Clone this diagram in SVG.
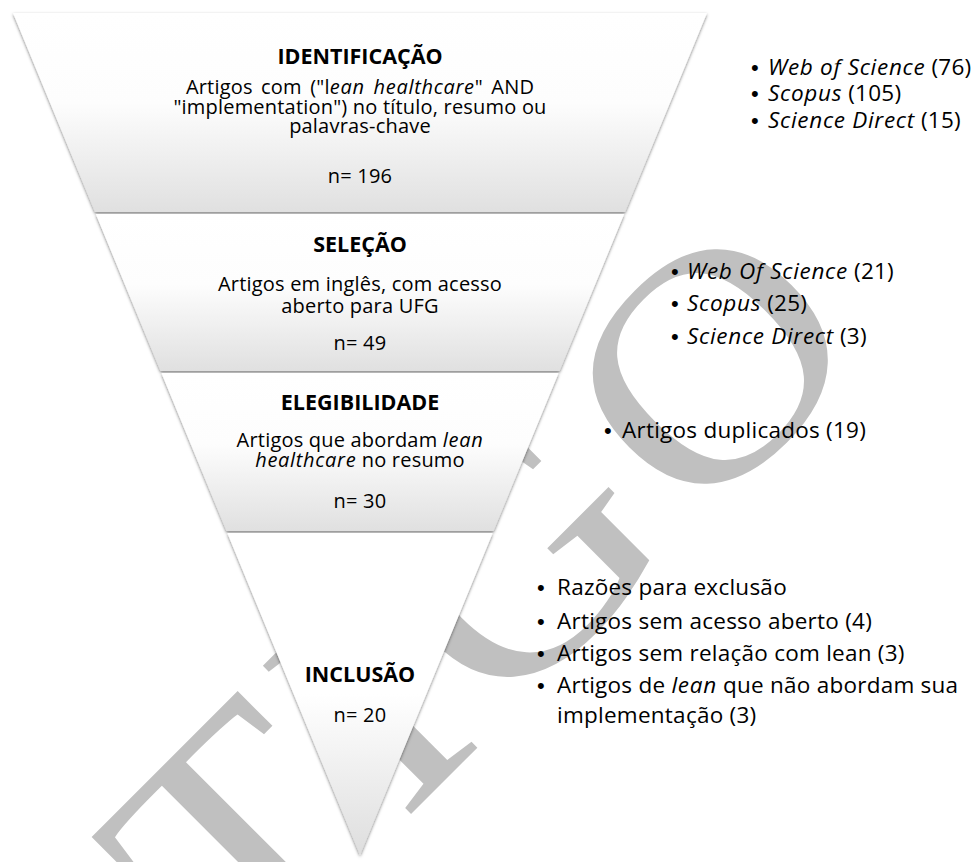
<svg xmlns="http://www.w3.org/2000/svg" width="980" height="862" viewBox="0 0 980 862">
<defs>
<linearGradient id="gBand" x1="0" y1="0" x2="0" y2="1">
<stop offset="0" stop-color="#ffffff"/>
<stop offset="0.45" stop-color="#fdfdfd"/>
<stop offset="1" stop-color="#e0e0e0"/>
</linearGradient>
<linearGradient id="gTri" x1="0" y1="0" x2="0" y2="1">
<stop offset="0" stop-color="#ffffff"/>
<stop offset="0.5" stop-color="#ffffff"/>
<stop offset="1" stop-color="#dedede"/>
</linearGradient>
<filter id="sh" x="-10%" y="-10%" width="120%" height="125%">
<feDropShadow dx="0" dy="1.5" stdDeviation="1.6" flood-color="#000" flood-opacity="0.5"/>
</filter>
<style>
.wm{font-family:"Liberation Serif","Times New Roman",serif;fill:#c0c0c0}
.band{fill:url(#gBand);filter:url(#sh)}
.tri{fill:url(#gTri);filter:url(#sh)}
.h{font-family:"Open Sans","Liberation Sans",sans-serif;font-weight:bold;font-size:21.5px;fill:#000;text-anchor:middle}
.b{font-family:"Open Sans","Liberation Sans",sans-serif;font-size:20px;letter-spacing:0.2px;fill:#000;text-anchor:middle}
.r{font-family:"Open Sans","Liberation Sans",sans-serif;font-size:22.5px;letter-spacing:0.25px;fill:#000}
.bu{font-family:"Liberation Sans",Arial,sans-serif;font-size:22px;fill:#000}
.i{font-style:italic;letter-spacing:0.7px}
</style>
</defs>
<rect width="980" height="862" fill="#ffffff"/>
<g id="watermark" transform="translate(250,975) rotate(-45) scale(1.12,1)">
<text class="wm" x="-474" y="0" font-size="320" letter-spacing="15">ARTIGO</text>
</g>
<polygon points="13,13 707,13 360,855" fill="#ffffff"/>
<g id="band-identificacao">
<polygon class="band" points="13,13 707,13 625,212 95,212"/>
<text class="h" x="360" y="64">IDENTIFICAÇÃO</text>
<text class="b" x="360" y="94" word-spacing="3">Artigos com ("l<tspan class="i">ean healthcare</tspan>" AND</text>
<text class="b" x="360" y="113.5">"implementation") no título, resumo ou</text>
<text class="b" x="360" y="133">palavras-chave</text>
<text class="b" x="360" y="183">n= 196</text>
</g>
<g id="band-selecao">
<polygon class="band" points="95.8,214 624.2,214 559.5,371 160.5,371"/>
<text class="h" x="360" y="252">SELEÇÃO</text>
<text class="b" x="360" y="291">Artigos em inglês, com acesso</text>
<text class="b" x="360" y="313">aberto para UFG</text>
<text class="b" x="360" y="350">n= 49</text>
</g>
<g id="band-elegibilidade">
<polygon class="band" points="161.4,373 558.6,373 493.5,531 226.5,531"/>
<text class="h" x="360" y="410">ELEGIBILIDADE</text>
<text class="b" x="360" y="447">Artigos que abordam <tspan class="i">lean</tspan></text>
<text class="b" x="360" y="467"><tspan class="i">healthcare</tspan> no resumo</text>
<text class="b" x="360" y="508">n= 30</text>
</g>
<g id="band-inclusao">
<polygon class="tri" points="227.3,533 492.7,533 360,855"/>
<text class="h" x="360" y="682">INCLUSÃO</text>
<text class="b" x="360" y="722">n= 20</text>
</g>
<g id="notes-identificacao">
<text class="bu" x="751" y="75">•</text><text class="r" x="768" y="75"><tspan class="i">Web of Science</tspan> (76)</text>
<text class="bu" x="751" y="101">•</text><text class="r" x="768" y="101"><tspan class="i">Scopus</tspan> (105)</text>
<text class="bu" x="751" y="128">•</text><text class="r" x="768" y="128"><tspan class="i">Science Direct</tspan> (15)</text>
</g>
<g id="notes-selecao">
<text class="bu" x="671" y="279">•</text><text class="r" x="687" y="279"><tspan class="i">Web Of Science</tspan> (21)</text>
<text class="bu" x="671" y="311">•</text><text class="r" x="687" y="311"><tspan class="i">Scopus</tspan> (25)</text>
<text class="bu" x="671" y="344">•</text><text class="r" x="687" y="344"><tspan class="i">Science Direct</tspan> (3)</text>
</g>
<g id="notes-elegibilidade">
<text class="bu" x="604" y="438">•</text><text class="r" x="622" y="438">Artigos duplicados (19)</text>
</g>
<g id="notes-inclusao">
<text class="bu" x="537" y="595">•</text><text class="r" x="557" y="595">Razões para exclusão</text>
<text class="bu" x="537" y="629">•</text><text class="r" x="557" y="629">Artigos sem acesso aberto (4)</text>
<text class="bu" x="537" y="661">•</text><text class="r" x="557" y="661">Artigos sem relação com lean (3)</text>
<text class="bu" x="537" y="693">•</text><text class="r" x="557" y="693">Artigos de <tspan class="i">lean</tspan> que não abordam sua</text>
<text class="r" x="557" y="723">implementação (3)</text>
</g>
<g id="connectors"/>
</svg>
